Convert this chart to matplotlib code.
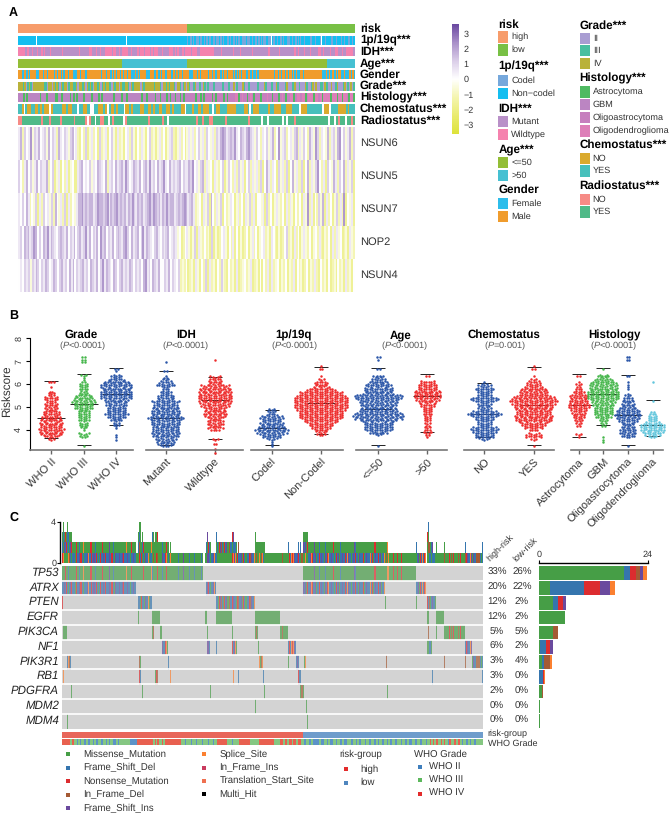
from __future__ import annotations

import re

import matplotlib
matplotlib.use("Agg")
import matplotlib.pyplot as plt
import numpy as np
from matplotlib.colors import LinearSegmentedColormap, ListedColormap, Normalize, to_rgb
from matplotlib.cm import ScalarMappable

W, H = 669, 815

# ---- panel A: annotation strips, run-length "12a3b" per column
risk_runs = "169h168l"
age_runs = "104y65o140y28o"
onep_runs = (
    "18n1w89n1w60n"
    "1c2n2c1n1c2n3c1n2c2n1c1n2c1n2c2n2c1n3c1n2c1n1c3n2c1n1c2n2c1n1c1n2c2n4c1n3c2n1c2n2c1n2c1n1c1n3c2n3c"
    "1w1n2c2n1c2n2c1n1c1n2n3c2n1c2n2c1n1c1n1c3n1c5n2c3n1c4n1c"
    "1w3n1c5n2c3n1c4n1c2n1c3n2c2n1c2n"
)
idh_runs = (
    "6w2m1w3m1w3m1w2m2w1m1w4m1w9m1w13m1w8m2w4m1w2m1w3m6w1m3w2m1w2m5w2m1w4m2w1m3w1m4w1m2w1m3w3m1w5m4w"
    "1m1w1m2w2m2w1m5w1m4w2m12w6m1w9m1w5m1w9m1w13m1w8m1w12m1w2m1w4m1w4m1w6m2w2m1w5m1w3m3w3m1w2m6w2m"
)
gender_str = (
    "mmmfmmfmfmmmmffmmmfmmfmmmmfmfmmfmfmmfmmmfffmmfmmmfmmmmmmmmmmfmmmfmmfmfmfmmfmfmmfmmfffmfmfmmmm"
    "fffmmmfmmfmfmmfmmmffmfmfmmfmmmmfffmmmfmfmmmmmfmmfmffmmfmfmmfmmmfmfmfmfmmmfmmfmffmfmmmmmmmmmmmfmm"
    "fmfmmfmfmmfmfmffmmfmmmmmmmmmmmmmfffmfmfmmfmfmmffmfffmfmf"
)
grade_str = (
    "cccbcabcbacccccccbbaccacbcbacbccabccbbcaccbcacbcbaccbcabcbccbacbccacbbccbacbccccacbccccccbcccbaccbc"
    "bccbaccbabcacbaabcaabacbabaaabaaaaabaaabaacabaaacbaabaaaaabaaacbaaabaacbaaaabcaaabcaabaaacbaabcacaab"
    "bacbaacaabcaaabcabacab"
)
histology_str = (
    "GGGAGAGGGGGGGAGGGAGGGGAAGGAGGGGAGAGAGGGAGGGGAGGGAGAGGGGGGAGGGGAGGAGGGGGGGGAGGAGGGGAGGAGGGAGAG"
    "GAGGAGAGGGOOOAOOAOAOOOOAOAOOOOAOAOOOODDAODOOAODOAOOOAOOODOOAOOOAODOAOODDAODDODDAODDDADDODADDDDA"
    "DDDADDADDOADDA"
)
chemo_str = (
    "yynwynnyynnynynnnwnyyyyynnynnyyywyynnyywwyynnnynwynnynyyywnnynyyyynnyynnynyynnyynnynyyyynnwyyyny"
    "ynnynnnyywynnyyyynnnnnyyyynnywynnnyyyyynyynnnnyyynnnyyyywnnnyyyyyyyywnnnwyyyynnnnynyyy"
)
radio_str = (
    "nnyyyyyyyyyynyyynyyyyynyyyyyynyyyyynwnyywyynnyywynyyyyywnyyyyyyyyyyynyyyyyynyywyyyyyyyyyyyyyynyyn"
    "yyynnyyyyyynyyyyyyyyyyynyyyyyywyywyyyyyyywywyyynyyyyyyyyyyyyyyyyywyywynyyywyyny"
)

# expression rows, one digit per column, 4 = z-score 0
nsun6 = (
    "572645836574563746527546536745"
    "214261352416235146315231452631425314623135241356213524135"
    "352463526435265"
    "78756768547657865"
    "364254635724835624536725364275386254372563784635726"
)
nsun5 = (
    "6425746357465"
    "57246135142513415"
    "6745463547654725647567586457657467585647568547565"
    "6746576845367"
    "2534153246136425263514625352614752541635261473526"
    "14725368425164375264725361"
)
nsun7 = (
    "546475243615264536274352615243"
    "5778676775687767857678676757686576756786876757686775676787567"
    "523415361742536142354135241536251443516241353241525314241538251426371524"
    "136252814351"
)
nop2 = (
    "564767568746476857654676574657467568574657486746574676578647567468576546"
    "75465674565"
    "3412453136153242316131245314251413124135241345231542131246231524135324134252"
    "13241525341231532"
)
nsun4 = (
    "45465636576465764576467564757465675647657468576547646756576465647856476574"
    "46574654"
    "6232412315314261523142632142315123423512314142515234132413251423124132521423"
    "141231423152314"
)
expr_names = ["NSUN6", "NSUN5", "NSUN7", "NOP2", "NSUN4"]
expr_rows = [nsun6, nsun5, nsun7, nop2, nsun4]

# ---- panel B: dots per 0.1 riskscore step, (lowest score, counts), whiskers lo/mid/hi
who2 = (3.6, [3, 6, 9, 10, 11, 9, 9, 10, 9, 8, 8, 7, 7, 6, 5, 6, 4, 6, 6, 3, 3, 2, 0, 1, 0, 3])
who3 = (3.3, [1, 0, 0, 0, 4, 5, 0, 1, 3, 4, 4, 5, 5, 5, 5, 5, 6, 8, 8, 10, 9, 8, 7, 4, 3, 4, 4, 4, 2, 1, 1, 3, 0, 0, 0, 0, 0, 2, 2, 2])
who4 = (3.6, [1, 1, 1, 0, 0, 1, 3, 3, 5, 6, 8, 10, 8, 8, 8, 9, 9, 10, 13, 13, 13, 13, 12, 13, 13, 10, 7, 5, 3, 0, 1, 2])
mutant = (3.3, [5, 7, 8, 9, 11, 12, 11, 11, 11, 12, 12, 12, 15, 13, 12, 12, 11, 10, 10, 12, 8, 7, 7, 5, 3, 3, 6, 8, 5, 3, 2, 1, 0, 2, 0, 0, 0, 1])
wildtype = (3.0, [1, 0, 1, 0, 2, 0, 3, 0, 0, 0, 4, 7, 6, 7, 7, 6, 9, 10, 9, 8, 12, 11, 13, 14, 14, 14, 13, 14, 13, 12, 7, 6, 5, 5, 0, 0, 0, 0, 0, 0, 0, 1])
codel = (3.3, [1, 1, 1, 5, 8, 10, 13, 14, 11, 9, 10, 8, 10, 9, 3, 4, 3])
noncodel = (3.8, [4, 5, 6, 8, 10, 12, 14, 18, 18, 18, 18, 20, 22, 22, 22, 22, 22, 20, 18, 14, 10, 7, 6, 4, 3, 0, 1, 0, 0, 2, 1])
young = (3.3, [1, 0, 0, 0, 0, 5, 8, 12, 12, 12, 12, 15, 20, 21, 20, 16, 15, 14, 15, 16, 17, 19, 20, 13, 12, 12, 11, 9, 8, 6, 5, 2, 0, 0, 2, 0, 0, 0, 1, 2])
old = (3.7, [1, 2, 4, 3, 3, 2, 3, 3, 3, 3, 4, 4, 4, 6, 6, 7, 10, 11, 11, 11, 10, 8, 8, 8, 6, 0, 0, 2])
chemo_no = (3.6, [5, 8, 8, 10, 12, 10, 6, 6, 6, 8, 12, 14, 10, 6, 5, 6, 6, 12, 10, 6, 6, 6, 8, 6, 3, 1])
chemo_yes = (3.3, [1, 0, 0, 3, 7, 7, 0, 4, 8, 10, 12, 15, 15, 16, 14, 14, 15, 16, 18, 18, 20, 17, 14, 12, 11, 10, 8, 6, 5, 3, 0, 1, 0, 0, 2, 1])
astro = (3.7, [1, 3, 0, 0, 0, 2, 3, 4, 5, 5, 6, 5, 7, 9, 9, 8, 8, 7, 8, 5, 3, 3, 2, 3, 1, 0, 0, 2])
gbm = (3.5, [1, 1, 1, 0, 0, 0, 0, 2, 3, 4, 5, 7, 8, 8, 8, 8, 9, 10, 11, 13, 13, 13, 13, 12, 12, 11, 9, 8, 5, 4, 0, 0, 1])
oligoastro = (3.3, [1, 0, 0, 0, 6, 6, 7, 7, 6, 5, 6, 8, 10, 11, 10, 10, 8, 7, 6, 5, 4, 4, 3, 1, 0, 1, 1, 1, 1, 0, 0, 2, 0, 0, 0, 0, 0, 0, 2, 2])
oligodendro = (3.7, [4, 7, 9, 10, 10, 10, 8, 4, 4, 4, 3, 2, 0, 0, 0, 0, 1, 0, 0, 0, 0, 0, 0, 0, 1])

swarm_panels = [
    ("Grade", "<0.0001", ["WHO II", "WHO III", "WHO IV"], [who2, who3, who4],
     [(3.64, 4.50, 6.12), (3.31, 5.11, 6.44), (4.22, 5.55, 6.69)], ["r", "g", "b"]),
    ("IDH", "<0.0001", ["Mutant", "Wildtype"], [mutant, wildtype],
     [(3.33, 4.50, 6.58), (3.60, 5.30, 6.32)], ["b", "r"]),
    ("1p/19q", "<0.0001", ["Codel", "Non-Codel"], [codel, noncodel],
     [(3.33, 4.07, 4.86), (3.81, 5.15, 6.73)], ["b", "r"]),
    ("Age", "<0.0001", ["<=50", ">50"], [young, old],
     [(3.31, 4.92, 6.69), (3.90, 5.46, 6.44)], ["b", "r"]),
    ("Chemostatus", "=0.001", ["NO", "YES"], [chemo_no, chemo_yes],
     [(3.66, 4.67, 6.06), (3.31, 5.07, 6.73)], ["b", "r"]),
    ("Histology", "<0.0001", ["Astrocytoma", "GBM", "Oligoastrocytoma", "Oligodendroglioma"],
     [astro, gbm, oligoastro, oligodendro],
     [(3.69, 5.07, 6.44), (4.20, 5.55, 6.69), (3.31, 4.64, 6.38), (3.71, 4.19, 5.28)], ["r", "g", "b", "c"]),
]

# ---- panel C: oncoplot, (first sample, one letter per mutated sample)
genes = ["TP53", "ATRX", "PTEN", "EGFR", "PIK3CA", "NF1", "PIK3R1", "RB1", "PDGFRA", "MDM2", "MDM4"]
tp53 = [
    (0, "MMMNMMDMMMMMMMNMMDMMMSMMMMMMNNMMMDMMMMMMNMMMMMMFMMMDMMMMMMMMMMMMSMMMMNMMMMMMMMMMMNMMMMMMMSDMMMMNMMMMDMMMNMMMMMMMMMMMDMMMMFMMMMMDMMMMDMMMMMMDM"),
    (241, "MMMMMMMMMMMFMMMMDMMMMMDMMMMMMMNMMMMMMDMMMMMMMMMMMMMFDMMMMMMMMMMMMMMMMMMNNMMMMMMMMMMMSSMMMMNMMMNMMMNMMMMMMMMMMMMMM"),
]
atrx = [
    (0, "DDFDNDMDFNDDDMNDDFNNDMDDDFSDDNDFFDNDMDNDDFDNDDDFDNNDMFDDDFDDFNDDDFDDMDDFDD"),
    (144, "DFNDMDDFSD"),
    (241, "FDFMNDDFSNDDFMDDNDFDDMFDNSDDFDDMDNDFMDDFDDNDSFDDMDFDNDDMFDDDNMDFDDDSDNMDFDDNDFMDDS"),
    (354, "DDFMNDSDNS"),
]
pten = [
    (0, "N"),
    (76, "DDMNDDMFDDSMDD"),
    (154, "DDMNFIDMNDFMMIDDNFDDMNIDDFMNDMMDDNIFDDS"),
    (323, "M"),
    (354, "M"),
    (365, "NDIMDFDDM"),
]
egfr = [
    (76, "M"),
    (90, "MMMMMMMM"),
    (143, "MM"),
    (154, "MMMMMMMMMMMMMMMM"),
    (193, "MMMMMMMMMMMMMMMMMMMMMMMMM"),
    (365, "MM"),
    (374, "MMMMMMMM"),
]
pik3ca = [
    (1, "MMMM"),
    (90, "MI"),
    (98, "MM"),
    (145, "M"),
    (170, "M"),
    (193, "MIM"),
    (218, "MMIMMMMM"),
    (366, "I"),
    (374, "M"),
    (382, "MMMMMNMIMNMMMMIMNMMMM"),
]
nf1 = [
    (100, "FDDNSM"),
    (145, "FFD"),
    (154, "D"),
    (170, "NDFSM"),
    (196, "M"),
    (226, "DNDSNSFD"),
    (365, "MMDDM"),
    (403, "DNFDDSF"),
]
pik3r1 = [
    (5, "DSID"),
    (77, "IM"),
    (106, "D"),
    (197, "SMIS"),
    (226, "M"),
    (234, "DFD"),
    (242, "MS"),
    (324, "I"),
    (382, "I"),
    (403, "I"),
    (410, "MFDDIIIIDMD"),
]
rb1 = [
    (1, "S"),
    (77, "ND"),
    (93, "MNI"),
    (108, "S"),
    (171, "S"),
    (176, "D"),
    (201, "D"),
    (236, "NDD"),
    (370, "D"),
    (420, "D"),
]
pdgfra = [(9, "M"), (80, "M"), (148, "M"), (202, "M"), (238, "MIIM"), (325, "M")]
mdm2 = [(193, "M"), (244, "M")]
mdm4 = [(5, "M"), (245, "M")]
gene_muts = [tp53, atrx, pten, egfr, pik3ca, nf1, pik3r1, rb1, pdgfra, mdm2, mdm4]
pct_high = ["33%", "20%", "12%", "12%", "5%", "6%", "3%", "3%", "2%", "0%", "0%"]
pct_low = ["26%", "22%", "2%", "2%", "5%", "2%", "4%", "0%", "0%", "0%", "0%"]

# samples per gene and mutation type, right hand bars
bar_types = ["M", "D", "N", "I", "F", "S"]
bar_counts = {
    "M": [18.8, 2.4, 3.2, 5.8, 3.2, 0.3, 0.7, 0.1, 0.7, 0.2, 0.2],
    "D": [1.3, 7.5, 1.0, 0, 0, 1.3, 0.4, 0.7, 0, 0, 0],
    "N": [1.3, 3.5, 1.2, 0, 0, 0.9, 0, 0.4, 0, 0, 0],
    "I": [0.9, 0, 0, 0, 0.9, 0, 1.4, 0, 0.15, 0, 0],
    "F": [0.75, 2.2, 0.6, 0, 0, 0.5, 0, 0, 0, 0, 0],
    "S": [0.9, 1.1, 0, 0, 0, 0.2, 0.3, 0.2, 0, 0, 0],
}

risk_group_runs = "241h180l"
who_grade_runs = (
    "8r2g2r3g1b2g1b3g2b2g2b3g1b2g2b3g2b3g1b2g1b3g3b2g1b11g7b"
    "16r2g1r1g2r3g1r2g3r13r"
    "4g1b5g1b4g1b5g1b5g1b4g1b3g"
    "10r5g1b6g11r9g15r6g3r2g2r2g3r1g3r2g3r2g"
    "1g2b3g2b2g3b3b2g3b3g1b2g3b3g1b3g2b2g3b4g2b3g1b2g2b4g1b3g2b3g2b2g1b3g2b3g1b2g2b3g2b4g1b3g2b2g3b3g2b3g2b4g1b3g"
    "1r2g1r2g2r3g1r2g1r3g1b2r3g2r2g2r"
    "2g1b3g2b2g1b3g2b7g"
)

# ---- colours
annot_colours = {
    "risk": {"h": "#F79C6B", "l": "#78C045"},
    "1p/19q": {"n": "#14BEF0", "c": "#76A8DC", "w": "#FFFFFF"},
    "IDH": {"m": "#B990C8", "w": "#F582AE"},
    "Age": {"y": "#93BE36", "o": "#45C0D2"},
    "Gender": {"f": "#2DBDEB", "m": "#F09C2D"},
    "Grade": {"a": "#A99DD2", "b": "#49BFA0", "c": "#B9B23A"},
    "Histology": {"A": "#4FBA62", "G": "#BB85C2", "O": "#C67FBE", "D": "#DD7FB8"},
    "Chemostatus": {"n": "#DAAA2E", "y": "#47C0BC", "w": "#FFFFFF"},
    "Radiostatus": {"n": "#F68B86", "y": "#4FBA88", "w": "#FFFFFF"},
}
mut_colours = {
    "M": "#469E46", "D": "#3575AE", "N": "#DC2C2F", "I": "#A55A34", "F": "#6A4A9E",
    "S": "#FB8030", "T": "#EF7050", "X": "#C93B5E", "B": "#000000",
}
swarm_colours = {"r": "#EE2B2B", "g": "#45B64B", "b": "#2B56A8", "c": "#62C6DC"}
TEXT = "#333333"
GREY = "#D3D3D3"

plt.rcParams["font.family"] = ["Liberation Sans", "DejaVu Sans"]
plt.rcParams["mathtext.fontset"] = "custom"
plt.rcParams["mathtext.rm"] = "Liberation Sans"
plt.rcParams["mathtext.it"] = "Liberation Sans:italic"
plt.rcParams["text.hinting"] = "no_hinting"

fig = plt.figure(figsize=(W / 100, H / 100), dpi=100)


def px_axes(x0, y0, x1, y1, **kw):
    return fig.add_axes([x0 / W, 1 - y1 / H, (x1 - x0) / W, (y1 - y0) / H], **kw)


def px_text(x, y, s, **kw):
    kw.setdefault("va", "center")
    return fig.text(x / W, 1 - y / H, s, **kw)


def expand(runs: str) -> str:
    return "".join(c * int(n) for n, c in re.findall(r"(\d+)([A-Za-z])", runs))


def strip_image(ax, letters: str, colours: dict):
    keys = list(colours)
    idx = np.array([[keys.index(c) for c in letters]])
    ax.imshow(idx, aspect="auto", cmap=ListedColormap([colours[k] for k in keys]),
              vmin=-0.5, vmax=len(keys) - 0.5, interpolation="nearest")
    ax.axis("off")


def panel_letters():
    px_text(9, 13, "A", fontsize=9, fontweight="bold")
    px_text(9, 316, "B", fontsize=9, fontweight="bold")
    px_text(9, 518, "C", fontsize=9, fontweight="bold")


def draw_heatmap():
    annots = [
        ("risk", "risk", expand(risk_runs)),
        ("1p/19q", "1p/19q***", expand(onep_runs)),
        ("IDH", "IDH***", expand(idh_runs)),
        ("Age", "Age***", expand(age_runs)),
        ("Gender", "Gender", gender_str),
        ("Grade", "Grade***", grade_str),
        ("Histology", "Histology***", histology_str),
        ("Chemostatus", "Chemostatus***", chemo_str),
        ("Radiostatus", "Radiostatus***", radio_str),
    ]
    for i, (key, label, letters) in enumerate(annots):
        top = 24 + i * 11.5
        ax = px_axes(18, top, 355, top + 9.2)
        strip_image(ax, letters, annot_colours[key])
        px_text(360, top + 4.6, label, fontsize=8.4, fontweight="bold", color="black")

    cmap = LinearSegmentedColormap.from_list(
        "expr", ["#DDE23A", "#E9EB6E", "#F4F5B0", "#FFFFFF", "#DACDE8", "#A88FC8", "#6A48A0"])
    norm = Normalize(-3.6, 3.6)
    for i, (name, row) in enumerate(zip(expr_names, expr_rows)):
        top = 127 + i * 33
        ax = px_axes(18, top, 355, top + 33)
        vals = (np.array([int(c) for c in row]) - 4) * 0.55
        ax.imshow(vals[None, :], aspect="auto", cmap=cmap, norm=norm, interpolation="nearest")
        ax.axis("off")
        px_text(360, top + 16, name, fontsize=8, color=TEXT)

    cax = px_axes(452, 24, 459, 134)
    cb = fig.colorbar(ScalarMappable(norm=norm, cmap=cmap), cax=cax, ticks=[-3, -2, -1, 0, 1, 2, 3])
    cb.outline.set_visible(False)
    cb.ax.tick_params(length=0, labelsize=6.5, labelcolor=TEXT, pad=3)
    cb.ax.set_yticklabels(["\u22123", "\u22122", "\u22121", "0", "1", "2", "3"])


def draw_legend_a():
    col1 = [
        (25, "risk", [(37, "high", "risk", "h"), (50, "low", "risk", "l")]),
        (66, "1p/19q***", [(80.7, "Codel", "1p/19q", "c"), (93.7, "Non\u2212codel", "1p/19q", "n")]),
        (109, "IDH***", [(121.7, "Mutant", "IDH", "m"), (134.7, "Wildtype", "IDH", "w")]),
        (149, "Age***", [(162.7, "<=50", "Age", "y"), (175.7, ">50", "Age", "o")]),
        (190, "Gender", [(203.7, "Female", "Gender", "f"), (216.3, "Male", "Gender", "m")]),
    ]
    col2 = [
        (26, "Grade***", [(38.3, "II", "Grade", "a"), (50.7, "III", "Grade", "b"), (63.7, "IV", "Grade", "c")]),
        (78.5, "Histology***", [(92, "Astrocytoma", "Histology", "A"), (104.7, "GBM", "Histology", "G"),
                                (117.7, "Oligoastrocytoma", "Histology", "O"), (131, "Oligodendroglioma", "Histology", "D")]),
        (145, "Chemostatus***", [(158.3, "NO", "Chemostatus", "n"), (171, "YES", "Chemostatus", "y")]),
        (185.7, "Radiostatus***", [(199.3, "NO", "Radiostatus", "n"), (212, "YES", "Radiostatus", "y")]),
    ]
    for x0, column in ((498.3, col1), (579.7, col2)):
        for y, title, items in column:
            px_text(x0, y, title, fontsize=8.4, fontweight="bold", color="black")
            for yi, label, group, key in items:
                fig.patches.append(plt.Rectangle((x0 / W, 1 - (yi + 5.5) / H), 10 / W, 11 / H,
                                                 transform=fig.transFigure, color=annot_colours[group][key], lw=0))
                px_text(x0 + 13, yi, label, fontsize=6.6, color=TEXT)


def draw_swarms():
    layouts = [(30, 133, 51, 32.7), (146, 243, 165.7, 49.3), (250.7, 342.7, 271.7, 49.3),
               (356, 446.7, 378.3, 49), (464, 554, 484.3, 49.4), (570.7, 662.7, 578.7, 24.6)]
    title_x = [80.7, 185.7, 293, 401, 503.7, 614.3]
    pval_x = [82.7, 186, 295, 405, 504.7, 614]
    for k, (panel, (x0, x1, t0, d)) in enumerate(zip(swarm_panels, layouts)):
        title, pval, labels, groups, whiskers, cols = panel
        ax = px_axes(x0, 338.3, x1, 449.7)
        ax.set_ylim(3.12, 8)
        ax.set_xlim((x0 - t0) / d, (x1 - t0) / d)
        ax.patch.set_alpha(0)
        for pos, (group, whisk, col) in enumerate(zip(groups, whiskers, cols)):
            low, counts = group
            xs, ys = [], []
            for j, n in enumerate(counts):
                for m in range(n):
                    # rows sag a little towards their ends so the swarm is not a grid
                    off = m - (n - 1) / 2
                    xs.append(pos + off * 2.5 / d)
                    ys.append(low + j * 0.1 + 0.035 * ((abs(int(off)) % 3) - 1))
            ax.scatter(xs, ys, s=3.2, color=swarm_colours[col], linewidths=0, clip_on=False, zorder=2)
            half = 7 / d
            ax.hlines([whisk[0], whisk[2]], pos - half, pos + half, color="#222222", lw=0.7, zorder=1)
            ax.hlines(whisk[1], pos - 14 / d, pos + 14 / d, color="#222222", lw=0.7, zorder=1)
        ax.set_xticks(range(len(labels)))
        ax.set_xticklabels(labels, rotation=45, ha="right", rotation_mode="anchor", fontsize=8, color=TEXT)
        ax.tick_params(axis="x", length=3, width=1, color="#666666", pad=2)
        for side in ("top", "right"):
            ax.spines[side].set_visible(False)
        ax.spines["bottom"].set_color("#777777")
        ax.spines["bottom"].set_linewidth(1.2)
        if k == 0:
            ax.set_yticks([4, 5, 6, 7, 8])
            ax.set_yticklabels(["4", "5", "6", "7", "8"], rotation=90, va="center", fontsize=6.5, color=TEXT)
            ax.tick_params(axis="y", length=3, width=0.8, pad=2)
            ax.spines["left"].set_linewidth(0.8)
            px_text(7, 391, "Riskscore", fontsize=8.5, rotation=90, ha="center", color=TEXT)
        else:
            ax.set_yticks([])
            ax.spines["left"].set_visible(False)
        px_text(title_x[k], 335, title, fontsize=8.3, fontweight="bold", ha="center", color="black")
        px_text(pval_x[k], 346, "($\\mathit{P}$" + pval + ")", fontsize=6.7, ha="center", color="#555555")


def draw_oncoplot():
    n_samples = 421
    kinds = list("MDNIFS")
    matrix = np.zeros((len(genes), n_samples), dtype=int)
    for g, muts in enumerate(gene_muts):
        for start, letters in muts:
            for i, c in enumerate(letters):
                if start + i < n_samples:
                    matrix[g, start + i] = kinds.index(c) + 1

    # pale matrix colours: the full colour mixed a bit with the grey ground
    grey = np.array(to_rgb(GREY))
    pale = [GREY] + [tuple(0.68 * np.array(to_rgb(mut_colours[k])) + 0.32 * grey) for k in kinds]

    ax = px_axes(62, 565.7, 483, 728.7)
    ax.imshow(matrix, aspect="auto", cmap=ListedColormap(pale), vmin=-0.5, vmax=6.5, interpolation="nearest")
    ax.hlines(np.arange(len(genes) - 1) + 0.5, -0.5, n_samples - 0.5, color="white", lw=1.2)
    ax.axis("off")
    for g, name in enumerate(genes):
        y = 572.7 + g * 14.8
        px_text(59, y, name, fontsize=8.3, style="italic", ha="right", color="#222222")
        px_text(497, y, pct_high[g], fontsize=7, ha="center", color=TEXT)
        px_text(522, y, pct_low[g], fontsize=7, ha="center", color=TEXT)
    px_text(491, 563, "high-risk", fontsize=6.5, rotation=45, rotation_mode="anchor", color=TEXT, va="bottom")
    px_text(518, 563, "low-risk", fontsize=6.5, rotation=45, rotation_mode="anchor", color=TEXT, va="bottom")

    # top bars: mutations per sample, last gene at the bottom of the stack
    top = px_axes(62, 522, 483, 562.7)
    bottoms = np.zeros(n_samples)
    xs = np.arange(n_samples)
    for g in range(len(genes) - 1, -1, -1):
        for v, kind in enumerate(kinds, start=1):
            hit = matrix[g] == v
            if hit.any():
                top.bar(xs[hit], 1, bottom=bottoms[hit], width=1.0, color=mut_colours[kind], linewidth=0)
        bottoms += matrix[g] > 0
    top.set_xlim(-0.5, n_samples - 0.5)
    top.set_ylim(0, 4)
    top.set_yticks([0, 4])
    top.set_xticks([])
    top.tick_params(axis="y", labelsize=6.5, length=2, width=0.8, pad=1, labelcolor=TEXT)
    for side in ("top", "right", "bottom"):
        top.spines[side].set_visible(False)
    top.spines["left"].set_position(("outward", 1.2))
    top.spines["left"].set_linewidth(1)

    # right bars
    bars = px_axes(539, 565.7, 647.7, 728.7)
    left = np.zeros(len(genes))
    for kind in bar_types:
        vals = np.array(bar_counts[kind])
        bars.barh(np.arange(len(genes)), vals, left=left, height=0.92, color=mut_colours[kind], linewidth=0)
        left += vals
    bars.set_xlim(0, 24)
    bars.set_ylim(len(genes) - 0.5, -0.5)
    bars.set_yticks([])
    bars.xaxis.tick_top()
    bars.set_xticks([0, 24])
    bars.tick_params(axis="x", labelsize=6.5, length=2, width=0.8, pad=1, labelcolor=TEXT)
    for side in ("left", "right", "bottom"):
        bars.spines[side].set_visible(False)
    bars.spines["top"].set_position(("outward", 2))
    bars.spines["top"].set_linewidth(1)

    # clinical strips under the matrix
    ax = px_axes(62, 731.7, 483, 738)
    strip_image(ax, expand(risk_group_runs), {"h": "#E8665A", "l": "#6F9DCC"})
    px_text(487.5, 733.5, "risk-group", fontsize=6.5, color=TEXT)
    ax = px_axes(62, 738.7, 483, 745.3)
    strip_image(ax, expand(who_grade_runs), {"b": "#5C93C8", "g": "#85C782", "r": "#E8604F"})
    px_text(487.5, 744, "WHO Grade", fontsize=6.5, color=TEXT)

    leg1 = [("Missense_Mutation", "M"), ("Frame_Shift_Del", "D"), ("Nonsense_Mutation", "N"),
            ("In_Frame_Del", "I"), ("Frame_Shift_Ins", "F")]
    leg2 = [("Splice_Site", "S"), ("In_Frame_Ins", "X"), ("Translation_Start_Site", "T"), ("Multi_Hit", "B")]
    leg3 = [("high", "#E32B2B"), ("low", "#4F86BE")]
    leg4 = [("WHO II", "#3F7FBD"), ("WHO III", "#5CB85C"), ("WHO IV", "#E32B2B")]

    def marker(x, y, colour):
        fig.patches.append(plt.Rectangle(((x - 2) / W, 1 - (y + 2) / H), 4 / W, 4 / H,
                                         transform=fig.transFigure, color=colour, lw=0))

    for i, (label, key) in enumerate(leg1):
        y = 754.3 + i * 13.5
        marker(68, y, mut_colours[key])
        px_text(83.6, y, label, fontsize=6.9, color=TEXT)
    for i, (label, key) in enumerate(leg2):
        y = 754.3 + i * 13.3
        marker(203.6, y, mut_colours[key])
        px_text(219.6, y, label, fontsize=6.9, color=TEXT)
    px_text(339.6, 754.3, "risk-group", fontsize=6.9, color=TEXT)
    for i, (label, colour) in enumerate(leg3):
        y = 769 + i * 13.7
        marker(345.7, y, colour)
        px_text(360.7, y, label, fontsize=6.9, color=TEXT)
    px_text(414, 754.3, "WHO Grade", fontsize=6.9, color=TEXT)
    for i, (label, colour) in enumerate(leg4):
        y = 767 + i * 13.4
        marker(419.6, y, colour)
        px_text(429, y, label, fontsize=6.9, color=TEXT)


panel_letters()
draw_heatmap()
draw_legend_a()
draw_swarms()
draw_oncoplot()
fig.savefig("out.png", dpi=100)
